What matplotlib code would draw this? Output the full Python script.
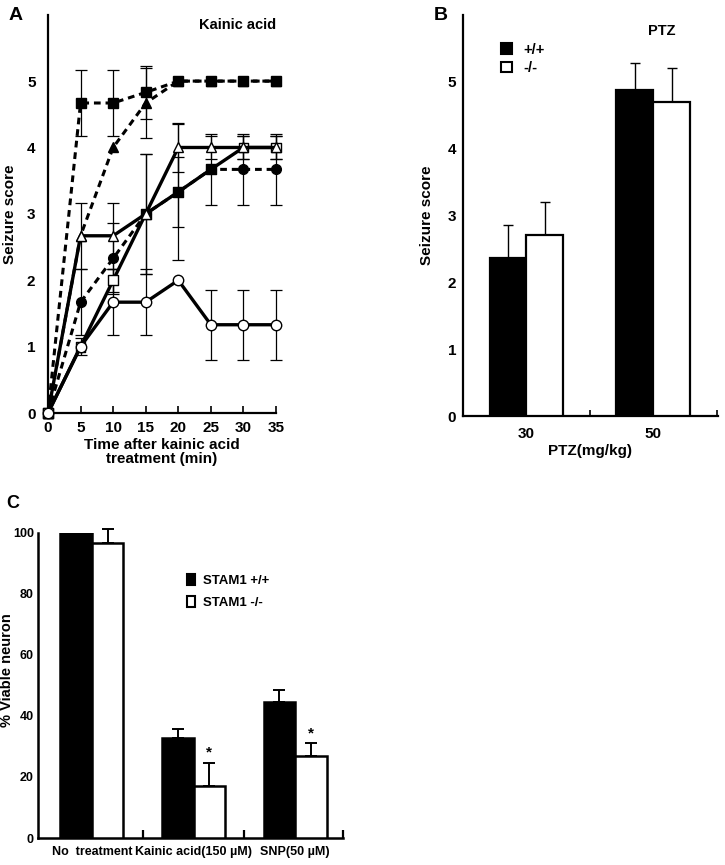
import numpy as np
import matplotlib
matplotlib.use('Agg')
import matplotlib.pyplot as plt
from matplotlib.patches import Patch

plt.rcParams['font.family'] = ['Liberation Sans', 'DejaVu Sans']
plt.rcParams['font.weight'] = 'bold'
plt.rcParams['axes.labelweight'] = 'bold'

# ---- data: panel A (kainic acid time course) ----
time = [0, 5, 10, 15, 20, 25, 30, 35]
sq_fill = [0, 4.67, 4.67, 4.83, 5, 5, 5, 5]
sq_fill_err = [0, 0.5, 0.5, 0.4, 0, 0, 0, 0]
tri_fill = [0, 2.67, 4, 4.67, 5, 5, 5, 5]
tri_fill_err = [0, 0, 0, 0.53, 0, 0, 0, 0]
circ_fill = [0, 1.67, 2.33, 3, 3.33, 3.67, 3.67, 3.67]
circ_fill_err = [0, 0.5, 0.53, 0.9, 1.03, 0.53, 0.53, 0.53]
tri_open = [0, 2.67, 2.67, 3, 4, 4, 4, 4]
tri_open_err = [0, 0.5, 0.5, 0, 0.37, 0.17, 0.17, 0.17]
sq_open = [0, 1, 2, 3, 3.33, 3.67, 4, 4]
sq_open_err = [0, 0.13, 0.17, 0.9, 0.53, 0, 0.17, 0.17]
circ_open = [0, 1, 1.67, 1.67, 2, 1.33, 1.33, 1.33]
circ_open_err = [0, 0, 0.5, 0.5, 0, 0.53, 0.53, 0.53]

# ---- data: panel B (PTZ) ----
ptz_doses = ['30', '50']
ptz_wt = [2.36, 4.88]
ptz_wt_err = [0.5, 0.4]
ptz_ko = [2.70, 4.70]
ptz_ko_err = [0.5, 0.5]

# ---- data: panel C (viable neurons) ----
treatments = ['No  treatment', 'Kainic acid(150 \u00b5M)', 'SNP(50 \u00b5M)']
viable_wt = [100, 32.8, 44.5]
viable_wt_err = [0, 3.0, 4.0]
viable_ko = [96.6, 17.0, 27.0]
viable_ko_err = [4.6, 7.6, 4.0]
signif = ['', '*', '*']

fig = plt.figure(figsize=(7.25, 8.65), dpi=100)

# ================= Panel A =================
axA = fig.add_axes([0.0662, 0.5225, 0.3145, 0.4605])


def err_plot(ax, x, y, e):
    x, y, e = np.array(x), np.array(y), np.array(e)
    m = e > 0
    ax.errorbar(x[m], y[m], yerr=e[m], fmt='none', ecolor='black',
                elinewidth=0.9, capsize=4, capthick=0.9, zorder=2, clip_on=False)


for y, e in [(sq_fill, sq_fill_err), (tri_fill, tri_fill_err), (circ_fill, circ_fill_err),
             (tri_open, tri_open_err), (sq_open, sq_open_err), (circ_open, circ_open_err)]:
    err_plot(axA, time, y, e)

dash = (2.2, 1.6)
axA.plot(time, tri_fill, color='black', lw=2.2, ls=(0, dash), marker='^', ms=7,
         mfc='black', mec='black', zorder=3, clip_on=False)
axA.plot(time, circ_fill, color='black', lw=2.2, ls=(0, dash), marker='o', ms=7,
         mfc='black', mec='black', zorder=3, clip_on=False)
axA.plot(time, sq_fill, color='black', lw=2.2, ls=(0, dash), marker='s', ms=7,
         mfc='black', mec='black', zorder=4, clip_on=False)
axA.plot(time, sq_open, color='black', lw=2.4, zorder=4, clip_on=False)
sq_face = ['white', 'white', 'white', 'black', 'black', 'black', 'white', 'white']
axA.scatter(time, sq_open, marker='s', s=50, facecolors=sq_face, edgecolors='black',
            linewidths=1.0, zorder=5, clip_on=False)
axA.plot(time, tri_open, color='black', lw=2.4, marker='^', ms=7.5, mfc='white',
         mec='black', mew=1.0, zorder=5, clip_on=False)
axA.plot(time, circ_open, color='black', lw=2.4, marker='o', ms=7.5, mfc='white',
         mec='black', mew=1.0, zorder=6, clip_on=False)

axA.set_xlim(0, 35)
axA.set_ylim(0, 6)
axA.set_xticks(time)
axA.set_yticks([0, 1, 2, 3, 4, 5])
axA.tick_params(axis='x', direction='in', length=5, width=1.2, labelsize=11, pad=6)
axA.tick_params(axis='y', length=0, labelsize=11, pad=9)
for s in ['top', 'right']:
    axA.spines[s].set_visible(False)
axA.spines['left'].set_linewidth(1.6)
axA.spines['bottom'].set_linewidth(1.6)
axA.set_xlabel('Time after kainic acid\ntreatment (min)', fontsize=11, labelpad=2,
               linespacing=0.95)
axA.set_ylabel('Seizure score', fontsize=11, labelpad=7)
axA.text(1.0, 0.975, 'Kainic acid', transform=axA.transAxes, ha='right', va='center',
         fontsize=10.5)
fig.text(0.012, 0.982, 'A', fontsize=14, fontweight='bold', va='center')

# ================= Panel B =================
axB = fig.add_axes([0.6386, 0.519, 0.3517, 0.464])
xb = np.arange(len(ptz_doses))
w = 0.29
axB.bar(xb - w / 2, ptz_wt, w, color='black', edgecolor='black', lw=1.6, zorder=3)
axB.bar(xb + w / 2, ptz_ko, w, color='white', edgecolor='black', lw=1.6, zorder=3)
axB.errorbar(xb - w / 2, ptz_wt, yerr=[np.zeros(2), ptz_wt_err], fmt='none',
             ecolor='black', elinewidth=1.0, capsize=3.5, capthick=1.0, zorder=2)
axB.errorbar(xb + w / 2, ptz_ko, yerr=[np.zeros(2), ptz_ko_err], fmt='none',
             ecolor='black', elinewidth=1.0, capsize=3.5, capthick=1.0, zorder=2)
axB.set_xlim(-0.5, 1.51)
axB.set_ylim(0, 6)
axB.set_xticks(xb)
axB.set_xticklabels(ptz_doses)
axB.set_xticks([0.5, 1.5], minor=True)
axB.set_yticks([0, 1, 2, 3, 4, 5])
axB.tick_params(axis='x', which='major', length=0, labelsize=11, pad=8)
axB.tick_params(axis='x', which='minor', direction='in', length=4, width=1.2)
axB.tick_params(axis='y', length=0, labelsize=11, pad=5)
for s in ['top', 'right']:
    axB.spines[s].set_visible(False)
axB.spines['left'].set_linewidth(1.6)
axB.spines['bottom'].set_linewidth(1.6)
axB.set_xlabel('PTZ(mg/kg)', fontsize=11, labelpad=2)
axB.set_ylabel('Seizure score', fontsize=11, labelpad=10)
axB.text(0.78, 0.96, 'PTZ', transform=axB.transAxes, ha='center', va='center',
         fontsize=10.5)
handles = [Patch(facecolor='black', edgecolor='black', lw=1.5, label='+/+'),
           Patch(facecolor='white', edgecolor='black', lw=1.5, label='-/-')]
axB.legend(handles=handles, loc='upper left', bbox_to_anchor=(0.15, 0.93), frameon=False,
           handlelength=0.75, handleheight=0.75, handletextpad=0.8, labelspacing=0.3,
           borderpad=0, borderaxespad=0, prop={'size': 10.5, 'weight': 'bold'})
fig.text(0.598, 0.982, 'B', fontsize=14, fontweight='bold', va='center')

# ================= Panel C =================
axC = fig.add_axes([0.0524, 0.0312, 0.4207, 0.3528])
xc = np.arange(len(treatments))
wc = 0.31
axC.bar(xc - wc / 2, viable_wt, wc, color='black', edgecolor='black', lw=1.8, zorder=3)
axC.bar(xc + wc / 2, viable_ko, wc, color='white', edgecolor='black', lw=1.8, zorder=3)
m = np.array(viable_wt_err) > 0
axC.errorbar((xc - wc / 2)[m], np.array(viable_wt)[m],
             yerr=[np.zeros(m.sum()), np.array(viable_wt_err)[m]], fmt='none',
             ecolor='black', elinewidth=1.4, capsize=4, capthick=1.4, zorder=2, clip_on=False)
axC.errorbar(xc + wc / 2, viable_ko, yerr=[np.zeros(3), viable_ko_err], fmt='none',
             ecolor='black', elinewidth=1.4, capsize=4, capthick=1.4, zorder=2, clip_on=False)
for i, s in enumerate(signif):
    if s:
        axC.text(xc[i] + wc / 2, viable_ko[i] + viable_ko_err[i] + 1.0, s, ha='center',
                 va='bottom', fontsize=11)
axC.set_xlim(-0.53, 2.47)
axC.set_ylim(0, 100)
axC.set_xticks(xc)
axC.set_xticklabels(treatments)
axC.set_xticks([0.5, 1.5, 2.47], minor=True)
axC.set_yticks([0, 20, 40, 60, 80, 100])
axC.tick_params(axis='x', which='major', length=0, labelsize=9, pad=6)
axC.tick_params(axis='x', which='minor', direction='in', length=6, width=1.6)
axC.tick_params(axis='y', length=0, labelsize=9, pad=3)
for s in ['top', 'right']:
    axC.spines[s].set_visible(False)
axC.spines['left'].set_linewidth(1.8)
axC.spines['bottom'].set_linewidth(1.8)
axC.set_ylabel('% Viable neuron', fontsize=10.5)
axC.yaxis.set_label_coords(-0.078, 0.55)
handlesC = [Patch(facecolor='black', edgecolor='black', lw=1.5, label='STAM1 +/+'),
            Patch(facecolor='white', edgecolor='black', lw=1.5, label='STAM1 -/-')]
axC.legend(handles=handlesC, loc='upper left', bbox_to_anchor=(0.49, 0.865), frameon=False,
           handlelength=0.6, handleheight=0.9, handletextpad=0.6, labelspacing=0.7,
           borderpad=0, borderaxespad=0, prop={'size': 9.5, 'weight': 'bold'})
fig.text(0.008, 0.418, 'C', fontsize=13, fontweight='bold', va='center')

fig.savefig('out.png', dpi=100)
